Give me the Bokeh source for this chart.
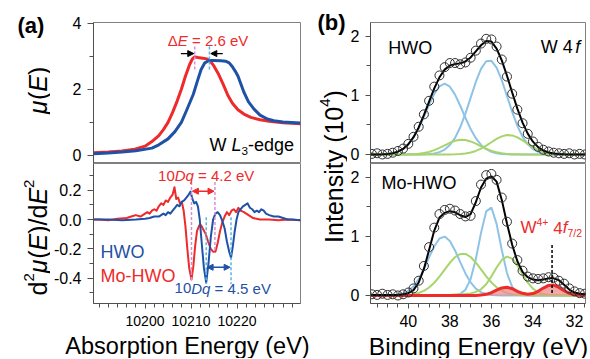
import math
from bokeh.plotting import figure
from bokeh.layouts import row, column
from bokeh.models import Range1d, FixedTicker, PrintfTickFormatter, Label, Arrow, NormalHead
from bokeh.embed import file_html
from bokeh.resources import INLINE

# ---------------- data ----------------
# (a) XANES, W L3-edge
XANES_RED_E = [10188.8, 10192, 10195, 10197.8, 10200, 10201.5, 10203, 10204, 10205, 10206,
               10207, 10207.9, 10208.8, 10209.7, 10210.3, 10210.8, 10211.5, 10212.5, 10213.5, 10214.2,
               10215, 10215.9, 10217, 10218, 10219, 10220.2, 10221.5, 10223, 10225, 10227,
               10230, 10233.8]
XANES_RED = [0.08, 0.1, 0.13, 0.19, 0.28, 0.42, 0.6, 0.78, 1.0, 1.3,
             1.65, 2.0, 2.4, 2.75, 2.92, 2.98, 2.96, 2.94, 2.92, 2.85,
             2.7, 2.48, 2.15, 1.82, 1.58, 1.38, 1.25, 1.15, 1.08, 1.03,
             0.99, 0.96]
XANES_BLUE_E = [10188.8, 10192, 10195, 10198, 10201.5, 10203, 10205, 10206.5, 10207.9, 10209,
                10210.5, 10211.5, 10212.2, 10213, 10213.9, 10215, 10216.5, 10217.5, 10218.3, 10219,
                10219.6, 10220.2, 10221, 10221.5, 10222.5, 10223.7, 10225, 10226.6, 10228, 10230,
                10233.8]
XANES_BLUE = [0.05, 0.07, 0.1, 0.14, 0.22, 0.32, 0.5, 0.72, 1.0, 1.35,
              1.85, 2.3, 2.6, 2.8, 2.87, 2.87, 2.86, 2.85, 2.8, 2.68,
              2.55, 2.4, 2.1, 1.91, 1.62, 1.4, 1.22, 1.1, 1.05, 1.01,
              0.98]

# (a) second derivative
D2_RED_E = [10188.8, 10190, 10192, 10194, 10196, 10197, 10198, 10199, 10200, 10200.5,
            10201, 10201.5, 10202, 10202.5, 10203, 10203.5, 10204, 10204.5, 10205, 10205.5,
            10206, 10206.4, 10206.8, 10207.2, 10207.6, 10208, 10208.4, 10208.8, 10209.2, 10209.6,
            10210.1, 10210.5, 10210.9, 10211.3, 10211.8, 10212.2, 10212.7, 10213.2, 10213.7, 10214.3,
            10214.8, 10215.3, 10215.8, 10216.3, 10216.8, 10217.3, 10217.8, 10218.3, 10218.8, 10219.3,
            10219.8, 10220.3, 10220.8, 10221.5, 10222.5, 10223.5, 10225, 10227, 10229, 10231,
            10233.8]
D2_RED = [0.0, 0.0, -0.005, 0.005, 0.01, 0.02, 0.03, 0.02, 0.04, 0.05,
          0.04, 0.06, 0.07, 0.06, 0.09, 0.11, 0.10, 0.13, 0.12, 0.15,
          0.17, 0.22, 0.14, 0.15, 0.11, 0.12, 0.06, -0.05, -0.2, -0.33,
          -0.41, -0.32, -0.18, -0.08, -0.04, -0.04, -0.07, -0.1, -0.15, -0.2,
          -0.22, -0.22, -0.16, -0.08, -0.02, 0.02, 0.05, 0.03, 0.06, 0.07,
          0.05, 0.08, 0.06, 0.05, 0.03, 0.01, 0.0, 0.0, -0.005, 0.0,
          -0.005]
D2_BLUE_E = [10188.8, 10192, 10195, 10198, 10200, 10201, 10202, 10203, 10203.5, 10204,
             10204.5, 10205, 10205.5, 10206, 10206.5, 10207, 10207.5, 10208, 10208.5, 10209,
             10209.5, 10209.9, 10210.3, 10210.7, 10211.1, 10211.5, 10211.9, 10212.3, 10212.8, 10213.3,
             10213.8, 10214.3, 10214.8, 10215.3, 10215.8, 10216.3, 10216.8, 10217.3, 10217.8, 10218.3,
             10218.7, 10219.1, 10219.5, 10219.9, 10220.3, 10220.8, 10221.3, 10221.8, 10222.3, 10222.8,
             10223.3, 10223.8, 10224.3, 10224.8, 10225.3, 10225.8, 10226.3, 10227, 10228, 10229,
             10230, 10231, 10232, 10233.8]
D2_BLUE = [0, 0, -0.005, 0.0, 0.005, 0.01, 0.02, 0.02, 0.03, 0.04,
           0.03, 0.05, 0.04, 0.06, 0.08, 0.1, 0.09, 0.12, 0.13, 0.15,
           0.17, 0.19, 0.14, 0.11, 0.12, 0.09, 0.0, -0.15, -0.33, -0.43,
           -0.3, -0.12, 0.0, 0.04, 0.05, 0.03, -0.01, -0.06, -0.15, -0.22,
           -0.26, -0.18, -0.08, 0.0, 0.05, 0.07, 0.09, 0.10, 0.11, 0.08,
           0.07, 0.05, 0.06, 0.05, 0.07, 0.06, 0.04, 0.03, 0.02, 0.02,
           0.01, 0.0, 0.0, -0.005]

# (b) XPS W 4f, binding energy grid
XPS_E = [42.0, 41.75, 41.5, 41.25, 41.0, 40.75, 40.5, 40.25, 40.0, 39.75,
         39.5, 39.25, 39.0, 38.75, 38.5, 38.25, 38.0, 37.75, 37.5, 37.25,
         37.0, 36.75, 36.5, 36.25, 36.0, 35.75, 35.5, 35.25, 35.0, 34.75,
         34.5, 34.25, 34.0, 33.75, 33.5, 33.25, 33.0, 32.75, 32.5, 32.25,
         32.0, 31.75, 31.5, 31.25]
HWO_DATA = [0.01, 0.01, 0.02, 0.0, 0.01, 0.03, 0.06, 0.1, 0.18, 0.3,
            0.47, 0.68, 0.91, 1.15, 1.34, 1.48, 1.55, 1.55, 1.53, 1.56,
            1.64, 1.76, 1.88, 1.96, 1.95, 1.83, 1.61, 1.32, 1.03, 0.76,
            0.53, 0.35, 0.22, 0.13, 0.08, 0.05, 0.03, 0.02, 0.01, 0.02,
            0.0, 0.01, 0.0, 0.01]
HWO_FIT = [0.0, 0.0, 0.001, 0.004, 0.009, 0.022, 0.047, 0.094, 0.173, 0.293,
           0.458, 0.666, 0.894, 1.12, 1.308, 1.438, 1.508, 1.532, 1.544, 1.576,
           1.645, 1.748, 1.851, 1.925, 1.915, 1.793, 1.595, 1.334, 1.051, 0.777,
           0.54, 0.353, 0.217, 0.124, 0.067, 0.033, 0.015, 0.006, 0.002, 0.001,
           0.0, 0.0, 0.0, 0.0]
HWO_B1 = [0, 0, 0.001, 0.004, 0.009, 0.022, 0.047, 0.093, 0.17, 0.287,
          0.445, 0.638, 0.843, 1.028, 1.156, 1.2, 1.149, 1.015, 0.826, 0.622,
          0.431, 0.276, 0.162, 0.089, 0.044, 0.021, 0.009, 0.003, 0.001, 0,
          0, 0, 0, 0, 0, 0, 0, 0, 0, 0,
          0, 0, 0, 0]
HWO_B2 = [0, 0, 0, 0, 0, 0, 0, 0, 0, 0,
          0, 0.003, 0.007, 0.018, 0.04, 0.083, 0.16, 0.282, 0.461, 0.692,
          0.96, 1.229, 1.451, 1.58, 1.587, 1.472, 1.259, 0.992, 0.723, 0.485,
          0.3, 0.172, 0.091, 0.044, 0.02, 0.008, 0.003, 0.001, 0, 0,
          0, 0, 0, 0]
HWO_G1 = [0, 0, 0, 0, 0, 0, 0, 0.001, 0.003, 0.006,
          0.013, 0.025, 0.044, 0.074, 0.112, 0.155, 0.198, 0.232, 0.249, 0.245,
          0.221, 0.183, 0.139, 0.097, 0.062, 0.036, 0.02, 0.01, 0.004, 0.002,
          0, 0, 0, 0, 0, 0, 0, 0, 0, 0,
          0, 0, 0, 0]
HWO_G2 = [0, 0, 0, 0, 0, 0, 0, 0, 0, 0,
          0, 0, 0, 0, 0, 0, 0.001, 0.003, 0.008, 0.017,
          0.033, 0.06, 0.099, 0.149, 0.207, 0.264, 0.307, 0.329, 0.323, 0.29,
          0.24, 0.181, 0.126, 0.08, 0.047, 0.025, 0.012, 0.006, 0.002, 0.001,
          0, 0, 0, 0]

MO_DATA = [0.02, 0.02, 0.01, 0.03, 0.01, 0.02, 0.0, 0.02, 0.05, 0.12,
           0.25, 0.5, 0.82, 1.15, 1.38, 1.45, 1.47, 1.44, 1.38, 1.34,
           1.35, 1.6, 1.88, 2.04, 2.06, 1.96, 1.66, 1.25, 0.88, 0.6,
           0.42, 0.32, 0.29, 0.28, 0.29, 0.31, 0.3, 0.25, 0.2, 0.12,
           0.07, 0.04, 0.03, 0.02]
MO_FIT = [0.01, 0.01, 0.01, 0.01, 0.01, 0.01, 0.01, 0.02, 0.04, 0.09,
          0.22, 0.45, 0.77, 1.1, 1.32, 1.40, 1.43, 1.41, 1.36, 1.33,
          1.38, 1.58, 1.83, 1.98, 2.02, 1.93, 1.62, 1.22, 0.86, 0.58,
          0.40, 0.31, 0.27, 0.26, 0.27, 0.29, 0.29, 0.26, 0.18, 0.1,
          0.05, 0.03, 0.02, 0.02]
MO_B1 = [0, 0, 0, 0, 0.002, 0.005, 0.013, 0.034, 0.076, 0.153,
         0.276, 0.447, 0.646, 0.835, 0.965, 0.998, 0.923, 0.763, 0.565, 0.374,
         0.221, 0.117, 0.055, 0.024, 0.009, 0.003, 0.001, 0, 0, 0,
         0, 0, 0, 0, 0, 0, 0, 0, 0, 0,
         0, 0, 0, 0]
MO_B2 = [0, 0, 0, 0, 0, 0, 0, 0, 0, 0,
         0, 0, 0, 0, 0, 0, 0.001, 0.006, 0.027, 0.098,
         0.278, 0.615, 1.061, 1.425, 1.49, 1.214, 0.77, 0.38, 0.147, 0.044,
         0.01, 0.002, 0, 0, 0, 0, 0, 0, 0, 0,
         0, 0, 0, 0]
MO_G1 = [0, 0, 0, 0, 0, 0, 0.002, 0.004, 0.009, 0.021,
         0.042, 0.078, 0.135, 0.216, 0.32, 0.437, 0.554, 0.649, 0.703, 0.704,
         0.652, 0.559, 0.442, 0.324, 0.22, 0.138, 0.08, 0.043, 0.021, 0.01,
         0.004, 0.002, 0, 0, 0, 0, 0, 0, 0, 0,
         0, 0, 0, 0]
MO_G2 = [0, 0, 0, 0, 0, 0, 0, 0, 0, 0,
         0.002, 0.003, 0.004, 0.005, 0.006, 0.008, 0.01, 0.015, 0.02, 0.025,
         0.035, 0.06, 0.105, 0.19, 0.323, 0.474, 0.602, 0.659, 0.624, 0.509,
         0.359, 0.218, 0.115, 0.055, 0.025, 0.012, 0.006, 0.003, 0, 0,
         0, 0, 0, 0]
MO_W4 = [0, 0, 0, 0, 0, 0, 0, 0, 0, 0,
         0, 0, 0, 0, 0, 0, 0, 0, 0, 0,
         0, 0.001, 0.006, 0.019, 0.047, 0.089, 0.128, 0.139, 0.115, 0.071,
         0.036, 0.022, 0.033, 0.07, 0.126, 0.171, 0.176, 0.137, 0.081, 0.036,
         0.012, 0.003, 0.0, 0.0]

for arr in [HWO_DATA, HWO_FIT, HWO_B1, HWO_B2, HWO_G1, HWO_G2,
            MO_DATA, MO_FIT, MO_B1, MO_B2, MO_G1, MO_G2, MO_W4]:
    assert len(arr) == len(XPS_E), len(arr)
assert len(XANES_RED) == len(XANES_RED_E) and len(XANES_BLUE) == len(XANES_BLUE_E)
assert len(D2_RED) == len(D2_RED_E) and len(D2_BLUE) == len(D2_BLUE_E)

# tick values
XA_TICKS = [10200, 10210, 10220]
XA_MINOR = list(range(10190, 10234, 2))
MU_TICKS = [0, 2, 4]
MU_MINOR = [1, 3]
D2_TICKS = [-0.4, -0.2, 0.0, 0.2]
D2_MINOR = [-0.5, -0.3, -0.1, 0.1, 0.3]
XB_TICKS = [40, 38, 36, 34, 32]
XB_MINOR = [31.5 + 0.5 * i for i in range(21)]
I_TICKS = [0, 1, 2]
I_MINOR = [0.5, 1.5]

# annotation positions
EDGE_PEAK_RED = 10210.8
EDGE_PEAK_BLUE = 10214.0
DIP_RED = [10210.1, 10215.2]
DIP_BLUE = [10213.3, 10218.7]
W4_MARK = 33.08

# ---------------- style ----------------
FONT = "Liberation Sans"
RED = "#ee2a2a"
BLUE = "#1f52a6"
PINK = "#d98cd6"
LBLUE = "#5ab4e8"
CB = "#8ec3e8"
CG = "#a8d46c"
FRAME = "#808080"
AX = "#505050"

W = {' ': 0.278, '.': 0.278, ',': 0.278, '=': 0.584, '-': 0.333, '(': 0.333, ')': 0.333,
     '/': 0.278, '+': 0.584, 'A': 0.667, 'B': 0.667, 'D': 0.722, 'E': 0.667, 'H': 0.722,
     'I': 0.278, 'L': 0.556, 'M': 0.833, 'O': 0.778, 'V': 0.667, 'W': 0.944,
     'c': 0.5, 'f': 0.278, 'i': 0.222, 'k': 0.5, 'l': 0.222, 'm': 0.833, 'r': 0.333,
     's': 0.5, 't': 0.278, 'v': 0.5, 'y': 0.5, 'Δ': 0.668, 'μ': 0.576}


def tw(s, size):
    return sum(W.get(c, 0.556) for c in s) * size


def P(t, st="normal", sc=1.0, r=0.0):
    return (t, st, sc, r)


def rich(p, x, y, pieces, size, color, align="left", angle=0.0, ox=0.0, oy=0.0):
    ws = [tw(t, size * sc) for (t, st, sc, r) in pieces]
    total = sum(ws)
    pos = {"left": 0.0, "center": -total / 2, "right": -total}[align]
    for (t, st, sc, r), w in zip(pieces, ws):
        lead = len(t) - len(t.lstrip(' '))
        shown = t.strip(' ')
        start = pos + lead * W[' '] * size * sc
        if shown:
            if angle == 0:
                xo, yo = ox + start, oy + r * size
            else:
                xo, yo = ox - r * size, oy + start
            p.add_layout(Label(x=x, y=y, x_offset=xo, y_offset=yo, text=shown, angle=angle,
                               text_font=FONT, text_font_size=f"{size * sc:.1f}px",
                               text_font_style=st, text_color=color,
                               text_align="left", text_baseline="middle"))
        pos += w


def make_fig(w, h, xr, yr, bl, br, bt, bb):
    p = figure(width=w, height=h, x_range=xr, y_range=yr, output_backend="svg",
               toolbar_location=None, min_border_left=bl, min_border_right=br,
               min_border_top=bt, min_border_bottom=bb)
    p.xgrid.visible = False
    p.ygrid.visible = False
    p.outline_line_color = FRAME
    p.outline_line_width = 1
    return p


def text_fig(w, h):
    p = figure(width=w, height=h, x_range=Range1d(0, w), y_range=Range1d(0, h),
               output_backend="svg", toolbar_location=None, min_border=0)
    p.axis.visible = False
    p.grid.visible = False
    p.outline_line_color = None
    return p


def style_axis(ax, size="16px", standoff=6, maj=6, mnr=4):
    ax.axis_line_color = AX
    ax.major_tick_line_color = AX
    ax.minor_tick_line_color = AX
    ax.major_tick_out = maj
    ax.major_tick_in = 0
    ax.minor_tick_out = mnr
    ax.minor_tick_in = 0
    ax.major_label_text_font = FONT
    ax.major_label_text_font_size = size
    ax.major_label_text_color = "black"
    ax.major_label_standoff = standoff


TOP_H, BOT_H, TITLE_H = 163, 170, 25
SIDE_H = TOP_H + BOT_H

# ---------------- panel (a) ----------------
xa = Range1d(10188.8, 10233.8)
pa1 = make_fig(255, TOP_H, xa, Range1d(-0.245, 4.02), 41, 5, 22, 0)
pa1.xaxis.visible = False
pa1.yaxis.ticker = FixedTicker(ticks=MU_TICKS, minor_ticks=MU_MINOR)
style_axis(pa1.yaxis[0])
pa1.line(XANES_RED_E, XANES_RED, line_color=RED, line_width=3, line_join="round")
pa1.line(XANES_BLUE_E, XANES_BLUE, line_color=BLUE, line_width=3, line_join="round")
pa1.segment(x0=[EDGE_PEAK_RED], y0=[2.6], x1=[EDGE_PEAK_RED], y1=[3.3],
            line_color=PINK, line_dash="3 2", line_width=1.5)
pa1.segment(x0=[EDGE_PEAK_BLUE], y0=[2.6], x1=[EDGE_PEAK_BLUE], y1=[3.3],
            line_color=LBLUE, line_dash="3 2", line_width=1.5)
pa1.add_layout(Arrow(end=NormalHead(size=6, fill_color="black", line_color="black"),
                     x_start=10207.8, y_start=3.08, x_end=EDGE_PEAK_RED - 0.2, y_end=3.08,
                     line_color="black", line_width=1.3))
pa1.add_layout(Arrow(end=NormalHead(size=6, fill_color="black", line_color="black"),
                     x_start=10216.9, y_start=3.08, x_end=EDGE_PEAK_BLUE + 0.3, y_end=3.08,
                     line_color="black", line_width=1.3))
rich(pa1, 10213.7, 3.49, [P("Δ"), P("E", "italic"), P(" = 2.6 eV")], 15, RED, align="center")
rich(pa1, 10214.0, 0.3, [P("W "), P("L", "italic"), P("3", sc=0.65, r=-0.3), P("-edge")], 18, "black")

pa2 = make_fig(255, BOT_H, xa, Range1d(-0.573, 0.382), 41, 5, 0, 30)
pa2.xaxis.ticker = FixedTicker(ticks=XA_TICKS, minor_ticks=XA_MINOR)
pa2.yaxis.ticker = FixedTicker(ticks=D2_TICKS, minor_ticks=D2_MINOR)
pa2.yaxis.formatter = PrintfTickFormatter(format="%.1f")
style_axis(pa2.yaxis[0])
style_axis(pa2.xaxis[0], size="14px", standoff=7, maj=5, mnr=4)
pa2.line(D2_RED_E, D2_RED, line_color=RED, line_width=2, line_join="round")
pa2.line(D2_BLUE_E, D2_BLUE, line_color=BLUE, line_width=2, line_join="round")
pa2.segment(x0=DIP_RED, y0=[0.255, 0.255], x1=DIP_RED, y1=[-0.415, -0.225],
            line_color=PINK, line_dash="3 2", line_width=1.5)
pa2.segment(x0=DIP_BLUE, y0=[0.015, 0.015], x1=DIP_BLUE, y1=[-0.44, -0.44],
            line_color=LBLUE, line_dash="3 2", line_width=1.5)
pa2.add_layout(Arrow(start=NormalHead(size=6, fill_color=RED, line_color=RED),
                     end=NormalHead(size=6, fill_color=RED, line_color=RED),
                     x_start=DIP_RED[0] + 0.2, y_start=0.193, x_end=DIP_RED[1] - 0.2, y_end=0.193,
                     line_color=RED, line_width=1.5))
pa2.add_layout(Arrow(start=NormalHead(size=6, fill_color=BLUE, line_color=BLUE),
                     end=NormalHead(size=6, fill_color=BLUE, line_color=BLUE),
                     x_start=DIP_BLUE[0] + 0.2, y_start=-0.326, x_end=DIP_BLUE[1] - 0.2, y_end=-0.326,
                     line_color=BLUE, line_width=1.5))
rich(pa2, 10213.3, 0.30, [P("10"), P("Dq", "italic"), P(" = 4.2 eV")], 15, RED, align="center")
rich(pa2, 10216.9, -0.47, [P("10"), P("Dq", "italic"), P(" = 4.5 eV")], 15, BLUE, align="center")
rich(pa2, 10190.3, -0.223, [P("HWO")], 18, BLUE)
rich(pa2, 10190.3, -0.382, [P("Mo-HWO")], 18, RED)

# ---------------- left text strip: (a) and y titles ----------------
pl = text_fig(50, SIDE_H)
pl.add_layout(Label(x=17, y=SIDE_H - 25, text="(a)", text_font=FONT, text_font_size="22px",
                    text_font_style="bold", text_color="black",
                    text_align="left", text_baseline="middle"))
rich(pl, 37, SIDE_H - 90, [P("μ", "italic"), P("("), P("E", "italic"), P(")")], 25, "black",
     align="center", angle=math.pi / 2)
rich(pl, 37, SIDE_H - 237,
     [P("d"), P("2", sc=0.6, r=0.36), P("μ", "italic"), P("("), P("E", "italic"), P(")/d"),
      P("E", "italic"), P("2", sc=0.6, r=0.36)], 25, "black",
     align="center", angle=math.pi / 2)

# ---------------- middle strip: (b) and y title ----------------
pm = text_fig(42, SIDE_H)
pm.add_layout(Label(x=12, y=SIDE_H - 22, text="(b)", text_font=FONT,
                    text_font_size="22px", text_font_style="bold", text_color="black",
                    text_align="left", text_baseline="middle"))
rich(pm, 28, SIDE_H - 166, [P("Intensity (10"), P("4", sc=0.6, r=0.36), P(")")], 25, "black",
     align="center", angle=math.pi / 2)

# ---------------- panel (b) ----------------
xb = Range1d(41.82, 31.47)
pb1 = make_fig(242, TOP_H, xb, Range1d(-0.153, 2.237), 22, 4, 22, 0)
pb1.xaxis.visible = False
pb1.yaxis.ticker = FixedTicker(ticks=I_TICKS, minor_ticks=I_MINOR)
style_axis(pb1.yaxis[0], standoff=6, maj=5, mnr=4)
for comp in (HWO_B1, HWO_B2):
    pb1.line(XPS_E, comp, line_color=CB, line_width=2)
for comp in (HWO_G1, HWO_G2):
    pb1.line(XPS_E, comp, line_color=CG, line_width=2)
pb1.line(XPS_E, HWO_FIT, line_color="black", line_width=2)
pb1.scatter(XPS_E, HWO_DATA, marker="circle", size=9, fill_color=None,
            line_color="#303030", line_width=1)
rich(pb1, 40.96, 1.81, [P("HWO")], 18, "black")
rich(pb1, 31.72, 1.83, [P("W 4"), P(" ", sc=0.5), P("f", "italic")], 18, "black", align="right")

pb2 = make_fig(242, BOT_H, xb, Range1d(-0.136, 2.237), 22, 4, 0, 30)
pb2.xaxis.ticker = FixedTicker(ticks=XB_TICKS, minor_ticks=XB_MINOR)
pb2.yaxis.ticker = FixedTicker(ticks=I_TICKS, minor_ticks=I_MINOR)
style_axis(pb2.yaxis[0], standoff=6, maj=5, mnr=4)
style_axis(pb2.xaxis[0], size="16px", standoff=6, maj=5, mnr=4)
for comp in (MO_B1, MO_B2):
    pb2.line(XPS_E, comp, line_color=CB, line_width=2)
for comp in (MO_G1, MO_G2):
    pb2.line(XPS_E, comp, line_color=CG, line_width=2)
pb2.varea(x=XPS_E, y1=[0] * len(XPS_E), y2=MO_W4, fill_color="#f08c8c", fill_alpha=0.75)
pb2.line(XPS_E, MO_W4, line_color=RED, line_width=3)
pb2.line(XPS_E, MO_FIT, line_color="black", line_width=2)
pb2.scatter(XPS_E, MO_DATA, marker="circle", size=9, fill_color=None,
            line_color="#303030", line_width=1)
pb2.segment(x0=[W4_MARK], y0=[0.04], x1=[W4_MARK], y1=[0.88],
            line_color="black", line_dash="3 2", line_width=1.5)
rich(pb2, 41.29, 1.9, [P("Mo-HWO")], 18, "black")
rich(pb2, 34.6, 1.15, [P("W"), P("4+", sc=0.62, r=0.36), P(" 4"), P("f", "italic"),
                       P("7/2", sc=0.62, r=-0.3)], 17, RED)

# ---------------- bottom strip: x titles ----------------
pbot = text_fig(589, TITLE_H)
pbot.add_layout(Label(x=187, y=TITLE_H / 2, text="Absorption Energy (eV)", text_font=FONT,
                      text_font_size="23.5px", text_color="black",
                      text_align="center", text_baseline="middle"))
pbot.add_layout(Label(x=478, y=TITLE_H / 2, text="Binding Energy (eV)", text_font=FONT,
                      text_font_size="24.5px", text_color="black",
                      text_align="center", text_baseline="middle"))

layout = column(row(pl, column(pa1, pa2), pm, column(pb1, pb2)), pbot)
open("out.html", "w").write(file_html(layout, INLINE))
